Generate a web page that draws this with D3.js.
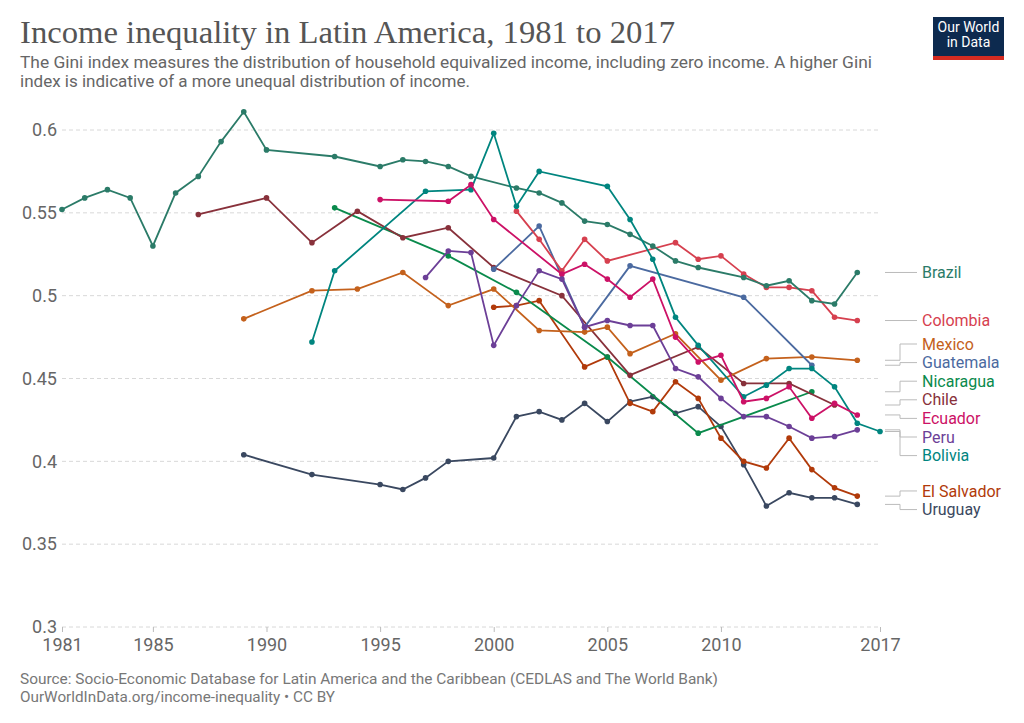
<!DOCTYPE html>
<html lang="en">
<head>
  <meta charset="UTF-8">
  <title>Income inequality in Latin America</title>
  <script src="https://d3js.org/d3.v7.min.js"></script>
  <style>
    body { margin: 0; background: #fff; }
    svg { font-family: "Liberation Sans Narrow", "Arial Narrow", "Roboto", sans-serif; }
    .grid line { stroke: #d8d8d8; stroke-dasharray: 4,3; }
    .series path { fill: none; stroke-width: 1.8px; }
    .leader { fill: none; stroke: #bbb; stroke-width: 1px; }
  </style>
</head>
<body>
  <svg id="viz" width="1024" height="723"></svg>

  <script>
    // Gini index by country, [year, value]
    const brazil = [[1981,0.552],[1982,0.559],[1983,0.564],[1984,0.559],[1985,0.530],[1986,0.562],[1987,0.572],[1988,0.593],[1989,0.611],[1990,0.588],[1993,0.584],[1995,0.578],[1996,0.582],[1997,0.581],[1998,0.578],[1999,0.572],[2001,0.565],[2002,0.562],[2003,0.556],[2004,0.545],[2005,0.543],[2006,0.537],[2007,0.530],[2008,0.521],[2009,0.517],[2011,0.511],[2012,0.506],[2013,0.509],[2014,0.497],[2015,0.495],[2016,0.514]];
    const colombia = [[2001,0.551],[2002,0.534],[2003,0.515],[2004,0.534],[2005,0.521],[2008,0.532],[2009,0.522],[2010,0.524],[2011,0.513],[2012,0.505],[2013,0.505],[2014,0.503],[2015,0.487],[2016,0.485]];
    const mexico = [[1989,0.486],[1992,0.503],[1994,0.504],[1996,0.514],[1998,0.494],[2000,0.504],[2002,0.479],[2004,0.478],[2005,0.481],[2006,0.465],[2008,0.477],[2010,0.449],[2012,0.462],[2014,0.463],[2016,0.461]];
    const guatemala = [[2000,0.516],[2002,0.542],[2004,0.481],[2006,0.518],[2011,0.499],[2014,0.458]];
    const nicaragua = [[1993,0.553],[1998,0.524],[2001,0.502],[2005,0.463],[2009,0.417],[2014,0.442]];
    const chile = [[1987,0.549],[1990,0.559],[1992,0.532],[1994,0.551],[1996,0.535],[1998,0.541],[2000,0.517],[2003,0.500],[2006,0.452],[2009,0.469],[2011,0.447],[2013,0.447],[2015,0.434]];
    const ecuador = [[1995,0.558],[1998,0.557],[1999,0.567],[2000,0.546],[2003,0.513],[2004,0.519],[2005,0.510],[2006,0.499],[2007,0.510],[2008,0.475],[2009,0.460],[2010,0.464],[2011,0.436],[2012,0.438],[2013,0.445],[2014,0.426],[2015,0.435],[2016,0.428]];
    const peru = [[1997,0.511],[1998,0.527],[1999,0.526],[2000,0.470],[2001,0.494],[2002,0.515],[2003,0.510],[2004,0.481],[2005,0.485],[2006,0.482],[2007,0.482],[2008,0.456],[2009,0.451],[2010,0.438],[2011,0.427],[2012,0.427],[2013,0.421],[2014,0.414],[2015,0.415],[2016,0.419]];
    const bolivia = [[1992,0.472],[1993,0.515],[1997,0.563],[1999,0.564],[2000,0.598],[2001,0.554],[2002,0.575],[2005,0.566],[2006,0.546],[2007,0.522],[2008,0.487],[2009,0.470],[2011,0.439],[2012,0.446],[2013,0.456],[2014,0.456],[2015,0.445],[2016,0.423],[2017,0.418]];
    const elSalvador = [[2000,0.493],[2001,0.494],[2002,0.497],[2004,0.457],[2005,0.463],[2006,0.435],[2007,0.430],[2008,0.448],[2009,0.438],[2010,0.414],[2011,0.400],[2012,0.396],[2013,0.414],[2014,0.395],[2015,0.384],[2016,0.379]];
    const uruguay = [[1989,0.404],[1992,0.392],[1995,0.386],[1996,0.383],[1997,0.390],[1998,0.400],[2000,0.402],[2001,0.427],[2002,0.430],[2003,0.425],[2004,0.435],[2005,0.424],[2006,0.436],[2007,0.439],[2008,0.429],[2009,0.433],[2010,0.421],[2011,0.398],[2012,0.373],[2013,0.381],[2014,0.378],[2015,0.378],[2016,0.374]];

    const countryNames = ["Uruguay", "El Salvador", "Nicaragua", "Chile", "Mexico", "Guatemala", "Colombia", "Brazil", "Bolivia", "Ecuador", "Peru"];
    const countryData = [uruguay, elSalvador, nicaragua, chile, mexico, guatemala, colombia, brazil, bolivia, ecuador, peru];
    const xTicks = [1981, 1985, 1990, 1995, 2000, 2005, 2010, 2017];
    const yTicks = [0.3, 0.35, 0.4, 0.45, 0.5, 0.55, 0.6];

    const colors = {
      "Brazil": "#2b7b68", "Colombia": "#d6404f", "Mexico": "#c4611c", "Guatemala": "#4b6aa0",
      "Nicaragua": "#0a8a4c", "Chile": "#88313b", "Ecuador": "#cc1166", "Peru": "#6c3f97",
      "Bolivia": "#00857f", "El Salvador": "#b13a0a", "Uruguay": "#3a4860"
    };

    const svg = d3.select("#viz");
    const margin = { top: 130, right: 144, bottom: 96, left: 62 };
    const width = 1024, height = 723;

    const x = d3.scaleLinear().domain([1981, 2017]).range([margin.left, width - margin.right]);
    const y = d3.scaleLinear().domain([0.3, 0.6]).range([height - margin.bottom, margin.top]);

    // header
    svg.append("text")
      .attr("x", 20).attr("y", 43)
      .attr("font-family", "'Liberation Serif', 'DejaVu Serif', serif")
      .attr("font-size", 31).attr("fill", "#555")
      .attr("textLength", 655).attr("lengthAdjust", "spacingAndGlyphs")
      .text("Income inequality in Latin America, 1981 to 2017");

    const sub = [
      ["The Gini index measures the distribution of household equivalized income, including zero income. A higher Gini", 852],
      ["index is indicative of a more unequal distribution of income.", 450]
    ];
    sub.forEach((s, i) => {
      svg.append("text")
        .attr("x", 20).attr("y", 68 + i * 19)
        .attr("font-size", 16.5).attr("fill", "#666")
        .attr("textLength", s[1]).attr("lengthAdjust", "spacingAndGlyphs")
        .text(s[0]);
    });

    // logo
    const logo = svg.append("g").attr("transform", "translate(933,17)");
    logo.append("rect").attr("width", 71).attr("height", 43).attr("fill", "#0d2a4f");
    logo.append("rect").attr("y", 39).attr("width", 71).attr("height", 4).attr("fill", "#d42b21");
    logo.selectAll("text").data(["Our World", "in Data"]).join("text")
      .attr("x", 35.5).attr("y", (d, i) => 15 + i * 15)
      .attr("text-anchor", "middle").attr("fill", "#fff").attr("font-size", 14)
      .text(d => d);

    // grid + y labels
    const grid = svg.append("g").attr("class", "grid");
    grid.selectAll("line").data(yTicks).join("line")
      .attr("x1", x(1981)).attr("x2", x(2017))
      .attr("y1", d => y(d)).attr("y2", d => y(d));

    svg.append("g").selectAll("text").data(yTicks).join("text")
      .attr("x", 57).attr("y", d => y(d)).attr("dy", "0.35em")
      .attr("text-anchor", "end").attr("fill", "#666").attr("font-size", 18)
      .text(d => d3.format("~g")(d));

    // x axis
    const xAxis = svg.append("g")
      .attr("transform", `translate(0,${y(0.3)})`)
      .call(d3.axisBottom(x).tickValues(xTicks).tickFormat(d3.format("d")).tickSize(5).tickPadding(6));
    xAxis.select(".domain").remove();
    xAxis.selectAll(".tick line").attr("stroke", "#bbb");
    xAxis.selectAll(".tick text").attr("fill", "#666").attr("font-size", 18)
      .attr("font-family", "'Liberation Sans Narrow', 'Arial Narrow', Roboto, sans-serif");

    // series
    const series = countryNames.map((name, i) => ({ name, values: countryData[i] }));
    const line = d3.line().x(d => x(d[0])).y(d => y(d[1]));

    const g = svg.append("g").attr("class", "series")
      .selectAll("g").data(series).join("g");
    g.append("path")
      .attr("d", d => line(d.values))
      .attr("stroke", d => colors[d.name]);
    g.selectAll("circle").data(d => d.values.map(v => ({ v, name: d.name }))).join("circle")
      .attr("cx", d => x(d.v[0])).attr("cy", d => y(d.v[1]))
      .attr("r", 2.8).attr("fill", d => colors[d.name]);

    // end labels, dodged
    const labelX = 922, lineStart = 885, bendX = 900, gap = 18.6;
    const labels = series.map(s => {
      const last = s.values[s.values.length - 1];
      return { name: s.name, target: y(last[1]) };
    }).sort((a, b) => a.target - b.target);

    let groups = labels.map(l => ({ items: [l], center: l.target }));
    let moved = true;
    while (moved) {
      moved = false;
      for (let i = 0; i < groups.length - 1; i++) {
        const a = groups[i], b = groups[i + 1];
        const aBottom = a.center + (a.items.length - 1) * gap / 2;
        const bTop = b.center - (b.items.length - 1) * gap / 2;
        if (bTop - aBottom < gap) {
          const items = a.items.concat(b.items);
          groups.splice(i, 2, { items, center: d3.mean(items, d => d.target) });
          moved = true;
          break;
        }
      }
    }
    groups.forEach(gr => {
      gr.items.forEach((it, k) => { it.ly = gr.center + (k - (gr.items.length - 1) / 2) * gap; });
    });

    svg.append("g").selectAll("path").data(labels).join("path")
      .attr("class", "leader")
      .attr("d", d => `M${lineStart},${d.target}H${bendX}V${d.ly}H${labelX - 5}`);

    svg.append("g").selectAll("text").data(labels).join("text")
      .attr("x", labelX).attr("y", d => d.ly).attr("dy", "0.35em")
      .attr("font-size", 16).attr("fill", d => colors[d.name])
      .text(d => d.name);

    // footer
    svg.append("text").attr("x", 20).attr("y", 684)
      .attr("font-size", 14.5).attr("fill", "#777")
      .attr("textLength", 698).attr("lengthAdjust", "spacingAndGlyphs")
      .text("Source: Socio-Economic Database for Latin America and the Caribbean (CEDLAS and The World Bank)");
    svg.append("text").attr("x", 20).attr("y", 702)
      .attr("font-size", 14.5).attr("fill", "#777")
      .attr("textLength", 315).attr("lengthAdjust", "spacingAndGlyphs")
      .text("OurWorldInData.org/income-inequality • CC BY");
  </script>
</body>
</html>
